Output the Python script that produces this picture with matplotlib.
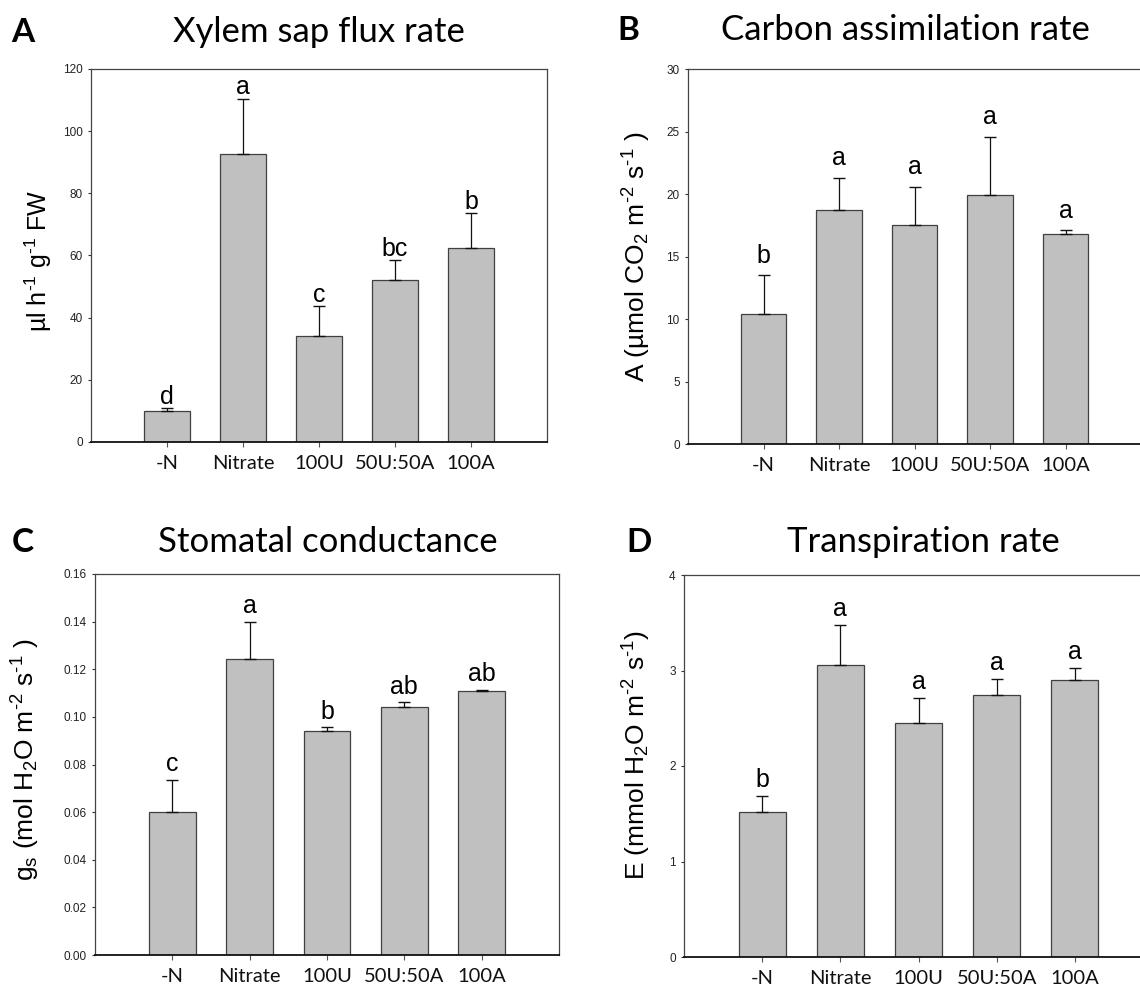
import matplotlib.pyplot as plt
import numpy as np

plt.rcParams['mathtext.fontset'] = 'custom'
plt.rcParams['mathtext.rm'] = 'Liberation Sans'
plt.rcParams['mathtext.it'] = 'Liberation Sans'
plt.rcParams['mathtext.default'] = 'regular'

W, H = 1140, 989

treatments = ['-N', 'Nitrate', '100U', '50U:50A', '100A']

# A: xylem sap flux
sap_flux = [10.1, 92.7, 34.0, 52.0, 62.5]
sap_flux_err = [0.9, 17.8, 9.6, 6.4, 11.1]
sap_flux_grp = ['d', 'a', 'c', 'bc', 'b']

# B: carbon assimilation
assim = [10.4, 18.7, 17.5, 19.9, 16.8]
assim_err = [3.1, 2.6, 3.1, 4.7, 0.3]
assim_grp = ['b', 'a', 'a', 'a', 'a']

# C: stomatal conductance
stomatal = [0.0602, 0.1241, 0.0942, 0.1040, 0.1110]
stomatal_err = [0.0134, 0.0159, 0.0016, 0.0021, 0.0004]
stomatal_grp = ['c', 'a', 'b', 'ab', 'ab']

# D: transpiration
transp = [1.52, 3.06, 2.45, 2.74, 2.90]
transp_err = [0.17, 0.42, 0.26, 0.17, 0.13]
transp_grp = ['b', 'a', 'a', 'a', 'a']


def rect(left, top, right, bottom):
    # pixel box -> figure fraction
    return [left / W, 1 - bottom / H, (right - left) / W, (bottom - top) / H]


def panel(fig, box, vals, errs, groups, ylim, yticks, fmt, letter_off):
    ax = fig.add_axes(rect(*box))
    x = np.arange(1, len(treatments) + 1)
    ax.bar(x, vals, width=0.6, color='#c0c0c0', edgecolor='#404040',
           linewidth=0.9, zorder=2)
    ax.errorbar(x, vals, yerr=[np.zeros(len(vals)), errs], fmt='none',
                ecolor='#111111', elinewidth=0.9, capsize=4, capthick=1.0,
                zorder=3)
    for xi, v, e, g in zip(x, vals, errs, groups):
        ax.annotate(g, (xi, v + e), xytext=(0, letter_off),
                    textcoords='offset points', ha='center', va='baseline',
                    fontsize=18, family='Liberation Sans')
    ax.set_xlim(0, 6)
    ax.set_ylim(*ylim)
    ax.set_yticks(yticks)
    ax.set_yticklabels([fmt.format(t) for t in yticks])
    ax.set_xticks(x)
    ax.set_xticklabels(treatments, family='Lato', fontsize=14.5)
    ax.tick_params(axis='y', direction='out', length=2.5, width=0.8,
                   pad=3.5, labelsize=8.5, colors='#333333',
                   labelcolor='#222222')
    ax.tick_params(axis='x', direction='out', length=3.5, width=0.8,
                   pad=6, colors='#555555', labelcolor='#111111')
    for s in ['left', 'top', 'right']:
        ax.spines[s].set_color('#444444')
        ax.spines[s].set_linewidth(0.9)
    ax.spines['bottom'].set_color('#111111')
    ax.spines['bottom'].set_linewidth(1.3)
    for lab in ax.get_yticklabels():
        lab.set_family('Liberation Sans')
    return ax


fig = plt.figure(figsize=(W / 100, H / 100), dpi=100)

panel(fig, (91, 69, 547, 442), sap_flux, sap_flux_err, sap_flux_grp,
      (0, 120), [0, 20, 40, 60, 80, 100, 120], '{:.0f}', 3)
panel(fig, (688, 69, 1141, 444), assim, assim_err, assim_grp,
      (0, 30), [0, 5, 10, 15, 20, 25, 30], '{:.0f}', 9)
panel(fig, (95, 574, 559, 955), stomatal, stomatal_err, stomatal_grp,
      (0, 0.16), [0, 0.02, 0.04, 0.06, 0.08, 0.10, 0.12, 0.14, 0.16],
      '{:.2f}', 6)
panel(fig, (684, 575, 1153, 957), transp, transp_err, transp_grp,
      (0, 4), [0, 1, 2, 3, 4], '{:.0f}', 6.5)

# panel letters and titles
heads = [('A', 11, 42, 'Xylem sap flux rate', 319),
         ('B', 617, 40, 'Carbon assimilation rate', 905),
         ('C', 12, 552, 'Stomatal conductance', 328),
         ('D', 626, 552, 'Transpiration rate', 923)]
for letter, lx, by, title, tx in heads:
    fig.text(lx / W, 1 - by / H, letter, family='Lato', weight='bold',
             fontsize=24, ha='left', va='baseline')
    fig.text(tx / W, 1 - by / H, title, family='Lato', fontsize=25,
             ha='center', va='baseline')

# y axis labels (hyphen in superscripts, as in the original)
ylabels = [(r'µl h$^{\text{-}1}$ g$^{\text{-}1}$ FW', 38, 261, 18),
           (r'A (µmol CO$_2$ m$^{\text{-}2}$ s$^{\text{-}1}$ )', 637, 257, 19),
           (r'g$_s$ (mol H$_2$O m$^{\text{-}2}$ s$^{\text{-}1}$ )', 26, 760, 19),
           (r'E (mmol H$_2$O m$^{\text{-}2}$ s$^{\text{-}1}$)', 637, 755, 19)]
for txt, x, y, fs in ylabels:
    fig.text(x / W, 1 - y / H, txt, rotation=90, ha='center', va='center',
             family='Liberation Sans', fontsize=fs)

fig.savefig('out.png', dpi=100)
